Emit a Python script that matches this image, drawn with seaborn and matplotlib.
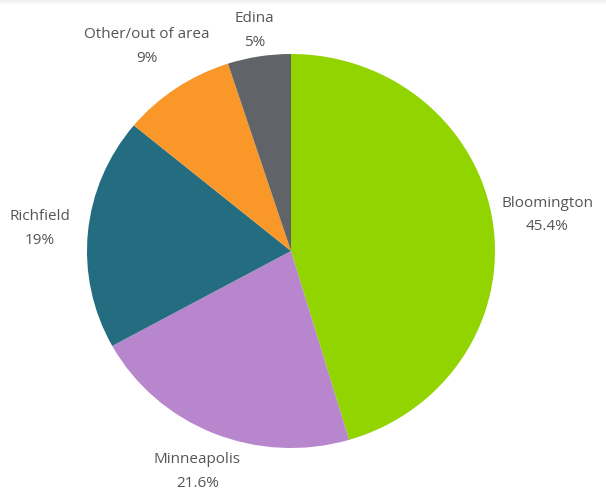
import numpy as np
import matplotlib
matplotlib.use("Agg")
import matplotlib.pyplot as plt
import seaborn as sns

sns.set_theme(style="white")
plt.rcParams['font.family'] = ['Open Sans', 'DejaVu Sans']

# data
cities = ["Bloomington", "Minneapolis", "Richfield", "Other/out of area", "Edina"]
shares = [45.4, 21.6, 19, 9, 5]
share_labels = ["45.4%", "21.6%", "19%", "9%", "5%"]

colors = ["#91d400", "#b886cc", "#246c80", "#f99728", "#606368"]
label_dist = [1.27, 1.21, 1.235, 1.255, 1.135]

W, H = 606, 492
cx, cy, rx, ry = 291, 251, 204, 197  # pixel placement of the pie (slightly squashed)

fig = plt.figure(figsize=(W / 100, H / 100), dpi=100)
ax = fig.add_axes([0, 0, 1, 1])

wedges, _ = ax.pie(shares, colors=colors, startangle=90, counterclock=False,
                   radius=1, frame=True, wedgeprops=dict(linewidth=0))
ax.set_aspect("auto")
ax.set_xlim(-cx / rx, (W - cx) / rx)
ax.set_ylim(-(H - cy) / ry, cy / ry)
ax.axis("off")

for w, name, pct, d in zip(wedges, cities, share_labels, label_dist):
    ang = np.deg2rad((w.theta1 + w.theta2) / 2)
    ax.text(d * np.cos(ang), d * np.sin(ang), f"{name}\n{pct}",
            ha="center", va="center", fontsize=11, color="#555555",
            linespacing=1.8)

# faint top shadow
for i, a in enumerate([0.06, 0.045, 0.03, 0.015]):
    fig.patches.append(plt.Rectangle((0, 1 - (i + 1) / H), 1, 1 / H,
                                     transform=fig.transFigure, color="black",
                                     alpha=a, lw=0))

fig.savefig("out.png", dpi=100)
